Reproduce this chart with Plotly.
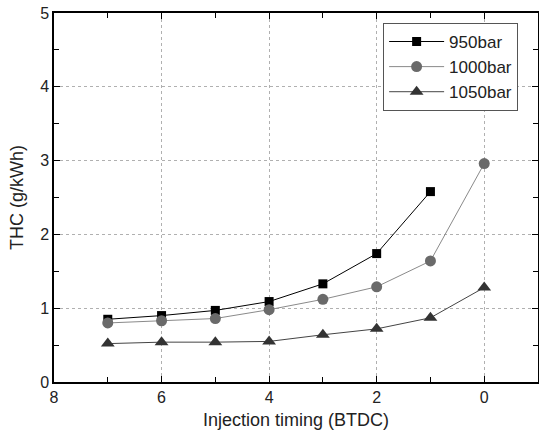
import plotly.graph_objects as go

x950 = [7, 6, 5, 4, 3, 2, 1]
y950 = [0.85, 0.90, 0.97, 1.09, 1.33, 1.74, 2.58]
x1000 = [7, 6, 5, 4, 3, 2, 1, 0]
y1000 = [0.80, 0.83, 0.86, 0.98, 1.12, 1.29, 1.64, 2.96]
x1050 = [7, 6, 5, 4, 3, 2, 1, 0]
y1050 = [0.52, 0.54, 0.54, 0.55, 0.64, 0.72, 0.87, 1.28]

fig = go.Figure()
fig.add_trace(go.Scatter(x=x950, y=y950, name="950bar", mode="lines+markers",
                         line=dict(color="black", width=1),
                         marker=dict(symbol="square", size=9, color="black")))
fig.add_trace(go.Scatter(x=x1000, y=y1000, name="1000bar", mode="lines+markers",
                         line=dict(color="#8a8a8a", width=1),
                         marker=dict(symbol="circle", size=11, color="#6a6a6a")))
fig.add_trace(go.Scatter(x=x1050, y=y1050, name="1050bar", mode="lines+markers",
                         line=dict(color="#444444", width=1),
                         marker=dict(symbol="triangle-up", size=12, color="#333333")))

axis_common = dict(
    showline=True, linecolor="black", linewidth=1.5, mirror="ticks",
    ticks="inside", ticklen=6, tickwidth=1.2, tickcolor="black",
    showgrid=True, gridcolor="#b0b0b0", griddash="dot", gridwidth=1,
    zeroline=False, tickfont=dict(size=16, color="#222"),
    title_font=dict(size=18, color="#222"), automargin=False,
)

fig.update_xaxes(range=[8, -1], tickvals=[8, 6, 4, 2, 0],
                 minor=dict(tickvals=[7, 5, 3, 1], ticks="inside", ticklen=5, tickcolor="black", showgrid=False),
                 title_text="Injection timing (BTDC)", title_standoff=8, **axis_common)
fig.update_yaxes(range=[0, 5], tickvals=[0, 1, 2, 3, 4, 5],
                 minor=dict(tickvals=[0.5, 1.5, 2.5, 3.5, 4.5], ticks="inside", ticklen=5, tickcolor="black", showgrid=False),
                 title_text="THC (g/kWh)", title_standoff=12, **axis_common)

fig.update_layout(
    width=539, height=442,
    margin=dict(l=54, r=1, t=13, b=60),
    plot_bgcolor="white", paper_bgcolor="white",
    font=dict(family="Liberation Sans, Arial, sans-serif", color="#222"),
    legend=dict(x=0.68, y=0.973, xanchor="left", yanchor="top",
                bordercolor="#555", borderwidth=1, bgcolor="white",
                font=dict(size=17, color="#222"), tracegroupgap=0,
                itemwidth=55),
)

fig.write_html("out.html", config={"displayModeBar": False},
               post_script="document.body.style.margin='0';document.body.style.overflow='hidden';")
